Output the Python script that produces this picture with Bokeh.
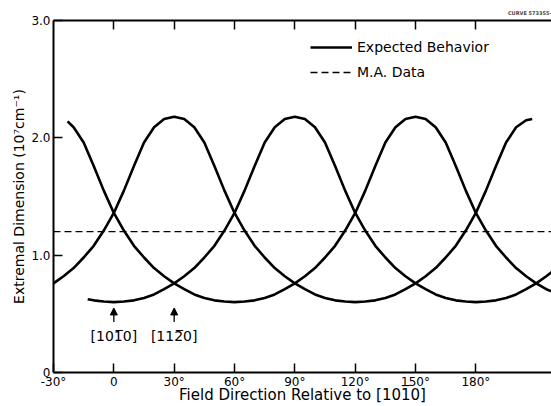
import numpy as np
from bokeh.plotting import figure
from bokeh.models import (Range1d, LinearAxis, FixedTicker, Legend, LegendItem,
                          Label, Arrow, NormalHead)
from bokeh.embed import file_html
from bokeh.resources import INLINE

# ---------------- data ----------------
# curve peaking at -30 deg and 150 deg
a_x = [-23, -20, -15, -10, -5, 0, 5, 10, 15, 20, 25, 30, 35, 40, 45, 50, 55, 60,
       65, 70, 75, 80, 85, 90, 95, 100, 105, 110, 115, 120, 125, 130, 135, 140,
       145, 150, 155, 160, 165, 170, 175, 180, 185, 190, 195, 200, 205, 210, 215, 218]
a_y = [2.14, 2.09, 1.96, 1.76, 1.55, 1.36, 1.21, 1.08, 0.98, 0.89, 0.82, 0.76,
       0.71, 0.665, 0.635, 0.615, 0.605, 0.60, 0.605, 0.615, 0.635, 0.665, 0.71,
       0.76, 0.82, 0.89, 0.98, 1.08, 1.21, 1.36, 1.55, 1.76, 1.96, 2.09, 2.16,
       2.18, 2.16, 2.09, 1.96, 1.76, 1.55, 1.36, 1.21, 1.08, 0.98, 0.89, 0.82,
       0.76, 0.71, 0.69]
# curve peaking at 30 deg (and rising again towards 210 deg)
b_x = [-30, -25, -20, -15, -10, -5, 0, 5, 10, 15, 20, 25, 30, 35, 40, 45, 50, 55,
       60, 65, 70, 75, 80, 85, 90, 95, 100, 105, 110, 115, 120, 125, 130, 135, 140,
       145, 150, 155, 160, 165, 170, 175, 180, 185, 190, 195, 200, 205, 208]
b_y = [0.76, 0.82, 0.89, 0.98, 1.08, 1.21, 1.36, 1.55, 1.76, 1.96, 2.09, 2.16,
       2.18, 2.16, 2.09, 1.96, 1.76, 1.55, 1.36, 1.21, 1.08, 0.98, 0.89, 0.82,
       0.76, 0.71, 0.665, 0.635, 0.615, 0.605, 0.60, 0.605, 0.615, 0.635, 0.665,
       0.71, 0.76, 0.82, 0.89, 0.98, 1.08, 1.21, 1.36, 1.55, 1.76, 1.96, 2.09,
       2.15, 2.16]
# curve peaking at 90 deg
c_x = [-13, -10, -5, 0, 5, 10, 15, 20, 25, 30, 35, 40, 45, 50, 55, 60, 65, 70, 75,
       80, 85, 90, 95, 100, 105, 110, 115, 120, 125, 130, 135, 140, 145, 150, 155,
       160, 165, 170, 175, 180, 185, 190, 195, 200, 205, 210, 215, 218]
c_y = [0.625, 0.615, 0.605, 0.60, 0.605, 0.615, 0.635, 0.665, 0.71, 0.76, 0.82,
       0.89, 0.98, 1.08, 1.21, 1.36, 1.55, 1.76, 1.96, 2.09, 2.16, 2.18, 2.16,
       2.09, 1.96, 1.76, 1.55, 1.36, 1.21, 1.08, 0.98, 0.89, 0.82, 0.76, 0.71,
       0.665, 0.635, 0.615, 0.605, 0.60, 0.605, 0.615, 0.635, 0.665, 0.71, 0.76,
       0.82, 0.86]
ma_value = 1.2

x_ticks = [-30, 0, 30, 60, 90, 120, 150, 180]
x_tick_labels = ["-30°", "0", "30°", "60°", "90°", "120°", "150°", "180°"]
y_ticks = [0, 1, 2, 3]
y_tick_labels = ["0", "1.0", "2.0", "3.0"]

marker_x = [0, 30]
marker_labels = ["[10\u0031\u03050]", "[11\u0032\u03050]"]

x_min, x_max = -30, 217.6
y_min, y_max = 0, 3.0

FONT = "DejaVu Sans"

p = figure(width=551, height=406, output_backend="svg", toolbar_location=None,
           x_range=Range1d(x_min, x_max), y_range=Range1d(y_min, y_max),
           min_border_left=53, min_border_right=0, min_border_top=20,
           min_border_bottom=34, x_axis_location=None, y_axis_location=None,
           title="CURVE 573355-")
p.title.align = "right"
p.title.text_font = FONT
p.title.text_font_size = "5px"
p.title.text_font_style = "bold"
p.title.standoff = 10
p.outline_line_color = None
p.xgrid.visible = False
p.ygrid.visible = False
p.background_fill_color = "white"
p.border_fill_color = "white"

def style_axis(ax, ticks, labels):
    ax.ticker = FixedTicker(ticks=ticks)
    ax.major_label_overrides = {t: l for t, l in zip(ticks, labels)}
    ax.axis_line_width = 2
    ax.axis_line_color = "black"
    ax.major_tick_in = 9
    ax.major_tick_out = 0
    ax.major_tick_line_width = 1.5
    ax.major_tick_line_color = "black"
    ax.minor_tick_line_color = None
    ax.major_label_text_font = FONT
    ax.major_label_text_font_size = "12px"
    ax.major_label_text_color = "black"
    ax.axis_label_text_font = FONT
    ax.axis_label_text_font_style = "normal"
    ax.axis_label_text_color = "black"

xb = LinearAxis(axis_label="Field Direction Relative to [10\u0031\u03050]")
style_axis(xb, x_ticks, x_tick_labels)
xb.major_label_standoff = 2
xb.axis_label_standoff = -6
xb.axis_label_text_font_size = "15px"
p.add_layout(xb, "below")

xt = LinearAxis()
style_axis(xt, x_ticks[1:], [""] * (len(x_ticks) - 1))
xt.major_label_text_font_size = "0px"
xt.major_label_standoff = 0
p.add_layout(xt, "above")

yl = LinearAxis(axis_label="Extremal Dimension (10\u2077cm\u207b\u00b9)")
style_axis(yl, y_ticks, y_tick_labels)
yl.major_label_standoff = 3
yl.axis_label_standoff = 1
yl.axis_label_text_font_size = "14px"
p.add_layout(yl, "left")

lw = 2.6
ra = p.line(a_x, a_y, line_color="black", line_width=lw)
rb = p.line(b_x, b_y, line_color="black", line_width=lw)
rc = p.line(c_x, c_y, line_color="black", line_width=lw)
rm = p.line([x_min, x_max], [ma_value, ma_value], line_color="black",
            line_width=1.3, line_dash="7 4")

legend = Legend(items=[LegendItem(label="Expected Behavior", renderers=[ra]),
                       LegendItem(label="M.A. Data", renderers=[rm])],
                location=(257, 290), padding=0, margin=0, spacing=5,
                glyph_width=42, glyph_height=20, label_height=20,
                label_standoff=5, border_line_color=None,
                background_fill_alpha=0, label_text_font=FONT,
                label_text_font_size="14px", label_text_color="black")
p.add_layout(legend, "center")

for mx, ml in zip(marker_x, marker_labels):
    p.add_layout(Arrow(x_start=mx, y_start=0.43, x_end=mx, y_end=0.55,
                       line_width=1.3, line_color="black",
                       end=NormalHead(size=7, fill_color="black",
                                      line_color="black")))
    p.add_layout(Label(x=mx, y=0.31, text=ml, text_align="center",
                       text_baseline="middle", text_font=FONT,
                       text_font_size="14px", text_color="black"))

open("out.html", "w").write(file_html(p, INLINE))
